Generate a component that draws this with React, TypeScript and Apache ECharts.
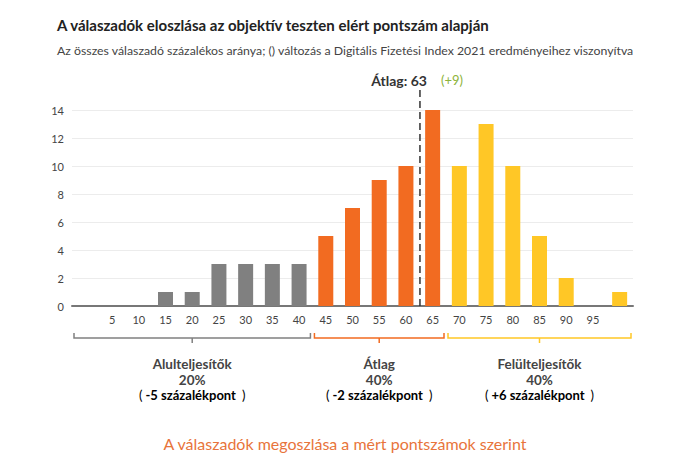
import React, { useEffect, useRef } from "react";
import * as echarts from "echarts";

const xLabels = ["", "5", "10", "15", "20", "25", "30", "35", "40", "45", "50", "55", "60", "65", "70", "75", "80", "85", "90", "95", ""];
const values = [0, 0, 0, 1, 1, 3, 3, 3, 3, 5, 7, 9, 10, 14, 10, 13, 10, 5, 2, 0, 1];
// group index per category: 0 = under, 1 = average, 2 = over
const groupOf = [0, 0, 0, 0, 0, 0, 0, 0, 0, 1, 1, 1, 1, 1, 2, 2, 2, 2, 2, 2, 2];
const groupColors = ["#808080", "#F26B21", "#FFC726"];
const groupNames = ["Alulteljesítők", "Átlag", "Felülteljesítők"];
const groupShares = ["20%", "40%", "40%"];
const groupChanges = ["-5 százalékpont", "-2 százalékpont", "+6 százalékpont"];
const groupChangeColors = ["#C1272D", "#C1272D", "#8DB33A"];
// bracket spans in score units (category centres 0..100, step 5)
const groupStart = [-2.5, 42.5, 67.5];
const groupEnd = [42.5, 67.5, 102.5];
const meanScore = 63;
const meanChange = "(+9)";

const FONT = "Lato, 'Noto Sans', sans-serif";

export default function App() {
  const ref = useRef<HTMLDivElement>(null);
  useEffect(() => {
    if (!ref.current) return;
    const chart = echarts.init(ref.current, null, { renderer: "svg" });
    const option: any = {
      animation: false,
      textStyle: { fontFamily: FONT },
      title: [
        {
          text: "A válaszadók eloszlása az objektív teszten elért pontszám alapján",
          left: 52,
          top: 12,
          textStyle: { fontFamily: FONT, fontSize: 15, fontWeight: "bold", color: "#222" },
        },
        {
          text: "Az összes válaszadó százalékos aránya; () változás a Digitális Fizetési Index 2021 eredményeihez viszonyítva",
          left: 52,
          top: 39,
          textStyle: { fontFamily: FONT, fontSize: 12.3, fontWeight: "normal", color: "#444" },
        },
        {
          text: "A válaszadók megoszlása a mért pontszámok szerint",
          left: "center",
          top: 430,
          textStyle: { fontFamily: FONT, fontSize: 16, fontWeight: "normal", color: "#E8743B" },
        },
      ],
      grid: { left: 72, right: 57, top: 110, bottom: 170 },
      xAxis: [
        {
          type: "category",
          data: xLabels,
          axisTick: { show: false },
          axisLine: { lineStyle: { color: "#777", width: 2 } },
          axisLabel: { color: "#444", fontSize: 11, margin: 8, fontFamily: FONT, interval: 0 },
        },
        {
          type: "value",
          min: -2.5,
          max: 102.5,
          show: false,
        },
      ],
      yAxis: {
        type: "value",
        min: 0,
        max: 14,
        interval: 2,
        axisLine: { show: false },
        axisTick: { show: false },
        axisLabel: { color: "#444", fontSize: 11, margin: 8, fontFamily: FONT },
        splitLine: { lineStyle: { color: "#ececec", width: 1 } },
      },
      series: [
        {
          type: "bar",
          barWidth: 15,
          data: values.map((v, i) => ({ value: v, itemStyle: { color: groupColors[groupOf[i]] } })),
        },
        {
          type: "custom",
          xAxisIndex: 1,
          clip: false,
          silent: true,
          data: [[meanScore]],
          renderItem: (params: any, api: any) => {
            const x = api.value(0);
            const p0 = api.coord([x, 0]);
            const p1 = api.coord([x, 14]);
            const top = p1[1] - 22;
            return {
              type: "group",
              children: [
                {
                  type: "line",
                  shape: { x1: p0[0] - 2, y1: p0[1], x2: p0[0] - 2, y2: top },
                  style: { stroke: "#333", lineWidth: 1.5, lineDash: [7, 4] },
                },
                {
                  type: "text",
                  x: p0[0] + 5,
                  y: top - 8,
                  style: {
                    text: "Átlag: " + x,
                    align: "right",
                    verticalAlign: "middle",
                    font: "bold 14px " + FONT,
                    fill: "#333",
                  },
                },
                {
                  type: "text",
                  x: p0[0] + 19,
                  y: top - 8,
                  style: {
                    text: meanChange,
                    align: "left",
                    verticalAlign: "middle",
                    font: "13px " + FONT,
                    fill: "#8DB33A",
                  },
                },
              ],
            };
          },
        },
        {
          type: "custom",
          xAxisIndex: 1,
          clip: false,
          silent: true,
          data: groupStart.map((s, i) => [s, groupEnd[i], i]),
          renderItem: (params: any, api: any) => {
            const g = api.value(2);
            const xa = api.coord([api.value(0), 0])[0] + 2;
            const xb = api.coord([api.value(1), 0])[0] - 2;
            const y = api.coord([0, 0])[1] + 32;
            const xc = (xa + xb) / 2;
            const color = groupColors[g];
            return {
              type: "group",
              children: [
                {
                  type: "polyline",
                  shape: { points: [[xa, y - 5], [xa, y], [xb, y], [xb, y - 5]] },
                  style: { stroke: color, lineWidth: 1.5, fill: null },
                },
                {
                  type: "line",
                  shape: { x1: xc, y1: y, x2: xc, y2: y + 5 },
                  style: { stroke: color, lineWidth: 1.5 },
                },
                {
                  type: "text",
                  x: xc,
                  y: y + 26,
                  style: {
                    text: groupNames[g],
                    align: "center",
                    verticalAlign: "middle",
                    font: "bold 13.5px " + FONT,
                    fill: "#444",
                  },
                },
                {
                  type: "text",
                  x: xc,
                  y: y + 42,
                  style: {
                    text: groupShares[g],
                    align: "center",
                    verticalAlign: "middle",
                    font: "bold 13.5px " + FONT,
                    fill: "#444",
                  },
                },
                {
                  type: "text",
                  x: xc,
                  y: y + 57,
                  style: {
                    text: "{p|(}{v|" + groupChanges[g] + "}{q|)}",
                    align: "center",
                    verticalAlign: "middle",
                    rich: {
                      p: { fontFamily: FONT, fontSize: 13, color: "#777", padding: [0, 3, 0, 0] },
                      q: { fontFamily: FONT, fontSize: 13, color: "#777", padding: [0, 0, 0, 6] },
                      v: { fontFamily: FONT, fontSize: 13, fontWeight: "bold", color: groupChangeColors[g] },
                    },
                  },
                },
              ],
            };
          },
        },
      ],
    };
    chart.setOption(option);
    return () => chart.dispose();
  }, []);
  return <div ref={ref} style={{ width: 690, height: 476, position: "absolute", left: 0, top: 0, background: "#fff" }} />;
}
